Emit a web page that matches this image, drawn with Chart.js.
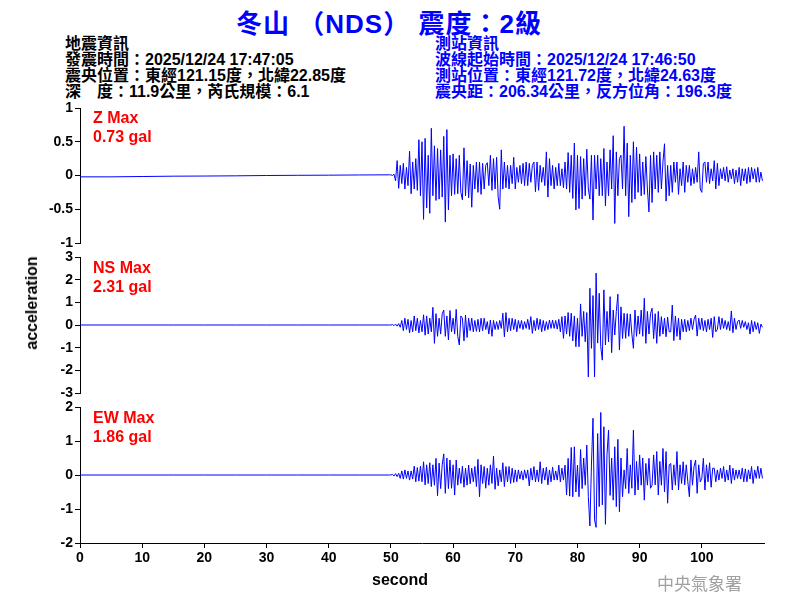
<!DOCTYPE html>
<html>
<head>
<meta charset="utf-8">
<script src="https://cdn.jsdelivr.net/npm/chart.js@4.4.1/dist/chart.umd.min.js"></script>
<style>
  body { margin: 0; background: #fff; }
  #page { position: relative; width: 800px; height: 600px; overflow: hidden;
          font-family: "Liberation Sans", "Noto Sans CJK TC", sans-serif; }
  canvas { position: absolute; left: 0; }
  .txt { position: absolute; white-space: pre; font-weight: bold; }
  #title { left: 0; width: 778px; top: 3px; text-align: center; font-size: 26px; color: #0000ff; letter-spacing: 1px; }
  .info { top: 36px; font-size: 16px; line-height: 16px; }
  #quake { left: 65px; color: #000; }
  #station { left: 435px; color: #0000ff; }
  .peak { left: 93px; font-size: 16px; line-height: 19px; color: #ff0000; z-index: 2; }
  #ylabel { left: 32px; top: 303px; font-size: 16px; transform: translate(-50%, -50%) rotate(-90deg); }
  #xlabel { left: 400px; top: 571px; font-size: 16px; transform: translateX(-50%); }
  #agency { left: 657px; top: 570px; font-size: 17px; font-weight: normal; color: #a0a0a0; font-family: "Noto Sans CJK TC", serif; }
</style>
</head>
<body>
<div id="page">
  <div id="title" class="txt">冬山 （NDS） 震度：2級</div>
  <div id="quake" class="txt info">地震資訊
發震時間：2025/12/24 17:47:05
震央位置：東經121.15度，北緯22.85度
深　度：11.9公里，芮氏規模：6.1</div>
  <div id="station" class="txt info">測站資訊
波線起始時間：2025/12/24 17:46:50
測站位置：東經121.72度，北緯24.63度
震央距：206.34公里，反方位角：196.3度</div>

  <canvas id="zChart" width="800" height="165" style="top:93px"></canvas>
  <canvas id="nsChart" width="800" height="166" style="top:242px"></canvas>
  <canvas id="ewChart" width="800" height="181" style="top:392px"></canvas>

  <div class="txt peak" style="top:108px">Z Max
0.73 gal</div>
  <div class="txt peak" style="top:258px">NS Max
2.31 gal</div>
  <div class="txt peak" style="top:408px">EW Max
1.86 gal</div>

  <div id="ylabel" class="txt">acceleration</div>
  <div id="xlabel" class="txt">second</div>
  <div id="agency" class="txt">中央氣象署</div>
</div>

<script>
// time grid of the traces (seconds)
const timeStart = 50;
const timeStep = 0.25;

// quiet part before the P arrival
const preTimes = [0, 5, 10, 15, 20, 25, 30, 35, 40, 45, 49.75];
const zPre  = [-0.02, -0.02, -0.015, -0.01, -0.008, -0.005, 0.0, 0.003, 0.005, 0.008, 0.01];
const nsPre = [0, 0, 0, 0, 0, 0, 0, 0, 0, 0, 0];
const ewPre = [0, 0, 0, 0, 0, 0, 0, 0, 0, 0, 0];

// Z component, gal (one row per second)
const zValues = [
  0.01, 0.0, 0.02, -0.08,
  0.22, -0.19, 0.15, -0.12,
  0.18, -0.2, 0.12, -0.15,
  0.36, -0.27, 0.2, -0.2,
  0.25, -0.22, 0.53, -0.3,
  0.5, -0.65, 0.55, -0.48,
  0.3, -0.56, 0.7, -0.3,
  0.44, -0.37, 0.4, -0.35,
  0.38, -0.32, 0.58, -0.69,
  0.68, -0.51, 0.3, -0.3,
  0.32, -0.28, 0.25, -0.27,
  0.3, -0.25, -0.36, 0.41,
  -0.3, 0.22, -0.33, 0.17,
  -0.47, 0.15, -0.2, 0.2,
  -0.25, 0.2, -0.28, 0.18,
  -0.2, 0.15, 0.19, -0.15,
  0.3, -0.22, 0.25, -0.2,
  0.27, -0.32, -0.5, 0.38,
  -0.2, 0.2, -0.18, 0.15,
  -0.2, 0.15, -0.12, 0.27,
  -0.2, 0.12, -0.1, 0.15,
  -0.12, 0.18, -0.15, 0.2,
  -0.15, 0.18, -0.1, 0.15,
  0.2, -0.24, 0.2, -0.22,
  0.15, -0.1, 0.12, -0.15,
  0.35, -0.32, 0.25, -0.15,
  0.15, -0.2, 0.12, -0.15,
  0.18, -0.15, 0.1, -0.18,
  0.2, -0.2, 0.34, -0.25,
  0.3, -0.34, 0.48, -0.51,
  0.3, -0.49, 0.28, -0.35,
  0.25, -0.3, 0.39, -0.2,
  -0.35, 0.3, -0.66, 0.3,
  -0.2, 0.3, -0.3, 0.25,
  -0.3, 0.4, -0.45, 0.2,
  -0.3, 0.38, -0.2, 0.59,
  -0.71, 0.35, -0.3, 0.25,
  0.3, -0.2, 0.73, -0.3,
  0.48, -0.61, 0.3, -0.4,
  0.5, -0.35, 0.42, -0.25,
  0.32, -0.3, 0.2, -0.28,
  0.28, -0.2, -0.54, 0.3,
  -0.4, 0.35, -0.2, 0.3,
  -0.25, 0.35, -0.2, 0.2,
  0.47, -0.38, 0.15, -0.3,
  0.15, -0.25, 0.2, -0.1,
  0.2, -0.28, 0.1, -0.15,
  0.2, -0.25, 0.15, -0.1,
  0.15, -0.15, 0.1, -0.12,
  0.12, -0.1, 0.35, -0.2,
  -0.25, 0.18, 0.2, -0.1,
  0.2, -0.12, 0.1, -0.08,
  0.22, -0.2, 0.18, -0.15,
  0.1, -0.05, 0.12, -0.08,
  0.13, -0.1, 0.08, -0.05,
  0.1, -0.12, 0.08, -0.1,
  0.12, -0.15, 0.1, -0.08,
  0.1, -0.12, 0.12, -0.1,
  0.12, -0.05, 0.1, -0.1,
  0.12, -0.1, 0.05, -0.08
];

// NS component, gal
const nsValues = [
  0, 0.02, -0.03, 0.04,
  -0.05, 0.06, -0.1, 0.2,
  -0.25, 0.3, -0.2, 0.25,
  -0.35, 0.2, -0.3, 0.4,
  -0.25, 0.3, -0.35, 0.2,
  -0.3, 0.45, -0.45, 0.4,
  -0.4, 0.3, -0.3, 0.78,
  -0.81, 0.5, -0.5, 0.3,
  -0.4, 0.5, 0.66, -0.5,
  0.4, -0.66, 0.64, -0.3,
  0.3, -0.4, 0.69, -0.5,
  -0.88, 0.4, 0.3, -0.7,
  0.44, -0.55, 0.3, -0.25,
  0.3, -0.3, 0.2, -0.28,
  0.25, -0.3, 0.3, -0.25,
  0.3, -0.2, 0.15, -0.4,
  0.22, -0.5, 0.2, -0.2,
  0.15, -0.2, 0.2, -0.15,
  0.52, -0.52, 0.55, -0.3,
  0.3, -0.25, 0.3, -0.2,
  0.25, -0.3, 0.2, -0.15,
  0.2, -0.2, 0.15, -0.15,
  0.25, -0.2, 0.37, -0.37,
  0.2, -0.25, 0.3, -0.2,
  0.25, -0.3, 0.2, -0.25,
  0.15, -0.2, 0.22, -0.15,
  0.22, -0.15, 0.2, -0.18,
  0.25, -0.3, 0.37, -0.59,
  0.4, -0.4, 0.55, -0.5,
  0.52, -0.7, 0.4, -0.96,
  0.3, -0.96, 0.93, -0.5,
  0.6, -0.74, 0.55, -2.29,
  1.62, -1.03, 1.3, -2.29,
  2.29, -0.8, 1.4, -0.96,
  -1.55, 1.55, -0.88, 0.6,
  -0.74, 1.25, -1.22, 0.66,
  -0.44, 0.6, 1.36, -1.1,
  0.8, -0.6, 0.52, -0.59,
  0.5, -0.5, 0.48, -0.4,
  -1.03, 0.66, -0.5, 0.4,
  -0.4, 0.66, -0.5, 1.18,
  -0.81, 0.6, -0.4, 0.5,
  0.74, -0.6, 0.5, -0.81,
  0.6, -0.5, 0.37, -0.4,
  0.3, -0.52, 0.35, -0.3,
  -0.3, 0.88, -0.69, 0.4,
  -0.5, 0.3, -0.66, 0.25,
  -0.3, 0.25, -0.3, 0.2,
  -0.25, 0.3, -0.2, 0.25,
  0.44, -0.49, 0.3, -0.2,
  0.3, -0.25, 0.2, -0.3,
  0.25, -0.2, 0.3, -0.55,
  0.37, -0.3, -0.2, 0.37,
  -0.2, 0.3, -0.15, 0.2,
  -0.2, 0.15, -0.25, 0.62,
  -0.34, 0.3, -0.2, 0.15,
  0.22, -0.15, 0.2, -0.1,
  0.15, -0.2, 0.1, -0.4,
  0.2, -0.3, 0.15, -0.2,
  0.1, -0.37, 0.04, -0.1
];

// EW component, gal
const ewValues = [
  0, 0.02, -0.03, 0.04,
  -0.05, 0.05, -0.1, 0.12,
  -0.12, 0.15, -0.1, 0.12,
  -0.15, 0.12, -0.12, 0.26,
  -0.2, 0.22, -0.18, 0.26,
  -0.2, 0.39, -0.29, 0.3,
  -0.25, 0.36, -0.34, 0.3,
  -0.3, 0.49, -0.61, 0.35,
  -0.4, 0.3, 0.62, -0.54,
  0.5, -0.4, 0.44, -0.39,
  0.3, -0.59, 0.44, -0.3,
  0.2, -0.25, 0.26, -0.36,
  0.2, -0.3, 0.29, -0.26,
  0.2, -0.2, 0.25, -0.34,
  0.46, -0.64, 0.3, -0.25,
  0.25, -0.39, 0.2, -0.3,
  0.3, -0.25, 0.56, -0.42,
  0.2, -0.32, 0.15, -0.2,
  0.36, -0.34, 0.25, -0.2,
  0.25, -0.25, 0.2, -0.22,
  0.15, -0.2, 0.15, -0.12,
  0.12, -0.15, 0.15, -0.1,
  0.15, -0.32, 0.2, -0.15,
  0.25, -0.2, 0.15, -0.2,
  0.39, -0.25, 0.2, -0.15,
  0.23, -0.29, 0.15, -0.2,
  0.23, -0.15, 0.12, -0.15,
  0.29, -0.2, 0.2, -0.15,
  0.29, -0.59, 0.49, -0.62,
  0.81, -0.64, 0.83, -0.5,
  0.29, -0.64, 0.75, -0.4,
  0.5, -0.3, 0.88, -0.64,
  -1.5, 0.29, 1.67, -1.32,
  -1.54, 1.22, -0.93, 1.84,
  -0.88, 1.42, -1.45, 0.6,
  1.32, -0.6, 0.5, -0.74,
  0.83, -0.93, 1.05, -1.08,
  0.5, -0.64, 0.15, -0.4,
  0.78, -0.54, 0.3, -0.39,
  1.32, -0.59, 0.4, -0.44,
  0.59, -0.3, 0.5, -0.74,
  0.34, -0.3, 0.49, -0.39,
  -0.3, 0.59, -0.29, 0.69,
  -0.59, 0.4, -0.3, 0.78,
  -0.5, 0.69, -0.83, 0.3,
  0.34, -0.44, 0.3, -0.3,
  0.69, -0.44, 0.3, -0.25,
  0.39, -0.29, 0.3, -0.2,
  -0.64, 0.44, -0.3, 0.25,
  0.44, -0.54, 0.3, -0.2,
  -0.1, 0.49, -0.44, 0.3,
  -0.2, 0.36, -0.36, 0.2,
  0.2, -0.2, 0.15, -0.15,
  0.2, -0.1, 0.25, -0.2,
  0.15, -0.15, 0.29, -0.25,
  0.2, -0.15, 0.15, -0.1,
  0.15, -0.12, 0.2, -0.2,
  0.18, -0.2, 0.15, -0.12,
  0.25, -0.25, 0.15, -0.1,
  0.26, -0.1, 0.2, -0.1
];

// axis ticks
const xTicks = [0, 10, 20, 30, 40, 50, 60, 70, 80, 90, 100];
const zTicks = [-1, -0.5, 0, 0.5, 1];
const nsTicks = [-3, -2, -1, 0, 1, 2, 3];
const ewTicks = [-2, -1, 0, 1, 2];

const tickFont = { family: '"Liberation Sans", Arial, sans-serif', size: 14, weight: 'bold' };

function toPoints(pre, values) {
  const pts = preTimes.map((t, i) => ({ x: t, y: pre[i] }));
  values.forEach((v, i) => pts.push({ x: timeStart + i * timeStep, y: v }));
  return pts;
}

function makePanel(id, pre, values, yTicks, showX) {
  const ctx = document.getElementById(id).getContext('2d');
  new Chart(ctx, {
    type: 'line',
    data: {
      datasets: [{
        data: toPoints(pre, values),
        borderColor: '#0000ff',
        borderWidth: 1,
        pointRadius: 0,
        tension: 0,
        fill: false
      }]
    },
    options: {
      responsive: false,
      animation: false,
      events: [],
      layout: { padding: { left: 0, right: 36, top: 15, bottom: showX ? 0 : 15 } },
      plugins: { legend: { display: false }, tooltip: { enabled: false } },
      scales: {
        x: {
          type: 'linear',
          min: 0,
          max: 110,
          display: showX,
          afterBuildTicks: s => { s.ticks = xTicks.map(v => ({ value: v })); },
          afterFit: s => { if (showX) s.height = 30; },
          grid: { display: true, drawOnChartArea: false, tickLength: 5, color: '#000' },
          border: { display: true, color: '#000', width: 1 },
          ticks: { font: tickFont, color: '#000', padding: 2, maxRotation: 0, autoSkip: false, callback: v => String(v) }
        },
        y: {
          min: yTicks[0],
          max: yTicks[yTicks.length - 1],
          afterBuildTicks: s => { s.ticks = yTicks.map(v => ({ value: v })); },
          afterFit: s => { s.width = 80; },
          grid: { display: true, drawOnChartArea: false, tickLength: 5, color: '#000' },
          border: { display: true, color: '#000', width: 1 },
          ticks: { font: tickFont, color: '#000', padding: 2, autoSkip: false, callback: v => String(v) }
        }
      }
    }
  });
}

document.addEventListener('DOMContentLoaded', () => {
  makePanel('zChart', zPre, zValues, zTicks, false);
  makePanel('nsChart', nsPre, nsValues, nsTicks, false);
  makePanel('ewChart', ewPre, ewValues, ewTicks, true);
});
</script>
</body>
</html>
